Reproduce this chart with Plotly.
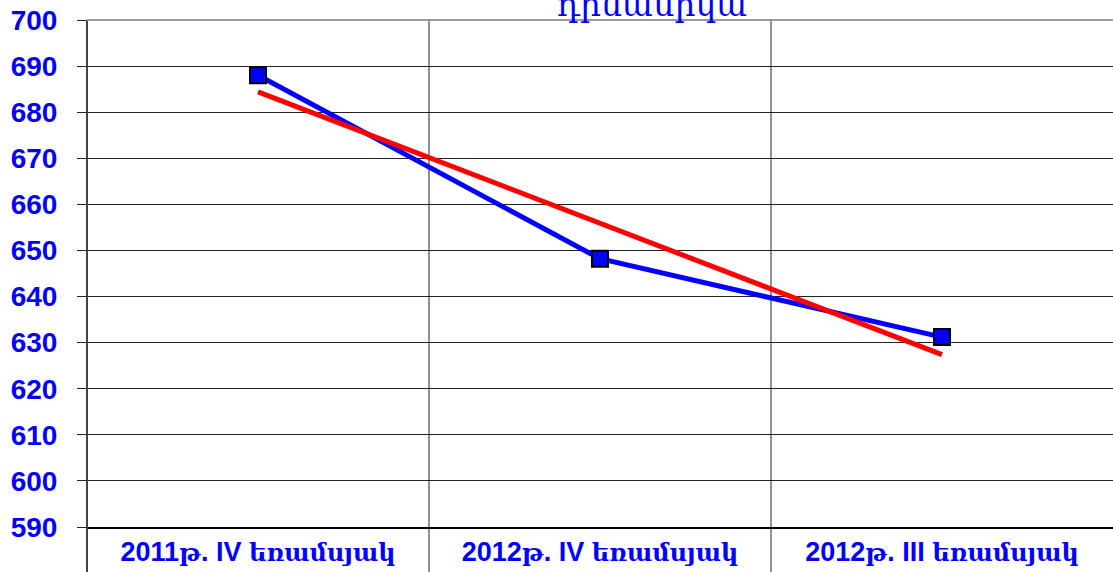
import plotly.graph_objects as go

categories = ["2011թ. IV եռամսյակ", "2012թ. IV եռամսյակ", "2012թ. III եռամսյակ"]
values = [688.0, 648.2, 631.2]
trend_x = [categories[0], categories[2]]
trend_values = [684.4, 627.4]
title_text = "դինամիկա"

BLUE = "#0000FF"
FONT = "Liberation Sans, Arial, sans-serif"


def is_arm(ch):
    return "\u0530" <= ch <= "\u058F"


def wrap(text, arm):
    if arm:
        return f'<span style="font-family:DejaVu Serif;font-weight:bold;font-size:24px">{text}</span>'
    return text


def styled(label):
    # Latin part in Arial-like bold, Armenian runs in a serif face
    out = ""
    run = ""
    run_arm = None
    for ch in label:
        a = is_arm(ch)
        if run_arm is None or a == run_arm or ch == " ":
            run += ch
            if ch != " " and run_arm is None:
                run_arm = a
        else:
            out += wrap(run, run_arm)
            run = ch
            run_arm = a
    out += wrap(run, run_arm)
    return out


fig = go.Figure()
fig.add_trace(go.Scatter(
    x=categories, y=values, mode="lines+markers",
    line=dict(color=BLUE, width=5),
    marker=dict(symbol="square", size=16, color=BLUE, line=dict(color="black", width=2)),
    showlegend=False,
))
fig.add_trace(go.Scatter(
    x=trend_x, y=trend_values, mode="lines",
    line=dict(color="#FF0000", width=5),
    showlegend=False,
))

shapes = []
for xb in [0.5, 1.5]:
    shapes.append(dict(type="line", xref="x", yref="paper", x0=xb, x1=xb, y0=-0.12, y1=1,
                       line=dict(color="#222", width=1), layer="below"))
shapes.append(dict(type="line", xref="paper", yref="paper", x0=0, x1=0, y0=-0.12, y1=1,
                   line=dict(color="#444", width=2)))
shapes.append(dict(type="line", xref="paper", yref="paper", x0=0, x1=1, y0=1, y1=1,
                   line=dict(color="#999", width=2)))

fig.update_layout(
    width=1113, height=572,
    margin=dict(l=87, r=0, t=20, b=45, autoexpand=False),
    paper_bgcolor="white", plot_bgcolor="white",
    shapes=shapes,
    annotations=[dict(text=title_text, xref="paper", yref="paper", x=0.551, y=1,
                      yshift=16, xanchor="center", yanchor="middle", showarrow=False,
                      font=dict(family="DejaVu Serif, serif", size=33, color=BLUE))],
    xaxis=dict(type="category", range=[-0.5, 2.5], showgrid=False, ticks="",
               showline=True, linecolor="black", linewidth=2, automargin=False,
               tickvals=categories, ticktext=[styled(c) for c in categories],
               ticklabeloverflow="allow",
               tickfont=dict(family=FONT, size=27, color=BLUE, weight="bold")),
    yaxis=dict(range=[590, 700], dtick=10, tick0=590, showgrid=True, gridcolor="#222", gridwidth=1,
               ticks="outside", ticklen=9, tickcolor="#222", showline=False, automargin=False,
               ticklabelstandoff=14, ticklabeloverflow="allow",
               tickfont=dict(family=FONT, size=28, color=BLUE, weight="bold"),
               zeroline=False),
)
fig.write_html("out.html", config={"displayModeBar": False},
               post_script="document.body.style.margin='0';")
